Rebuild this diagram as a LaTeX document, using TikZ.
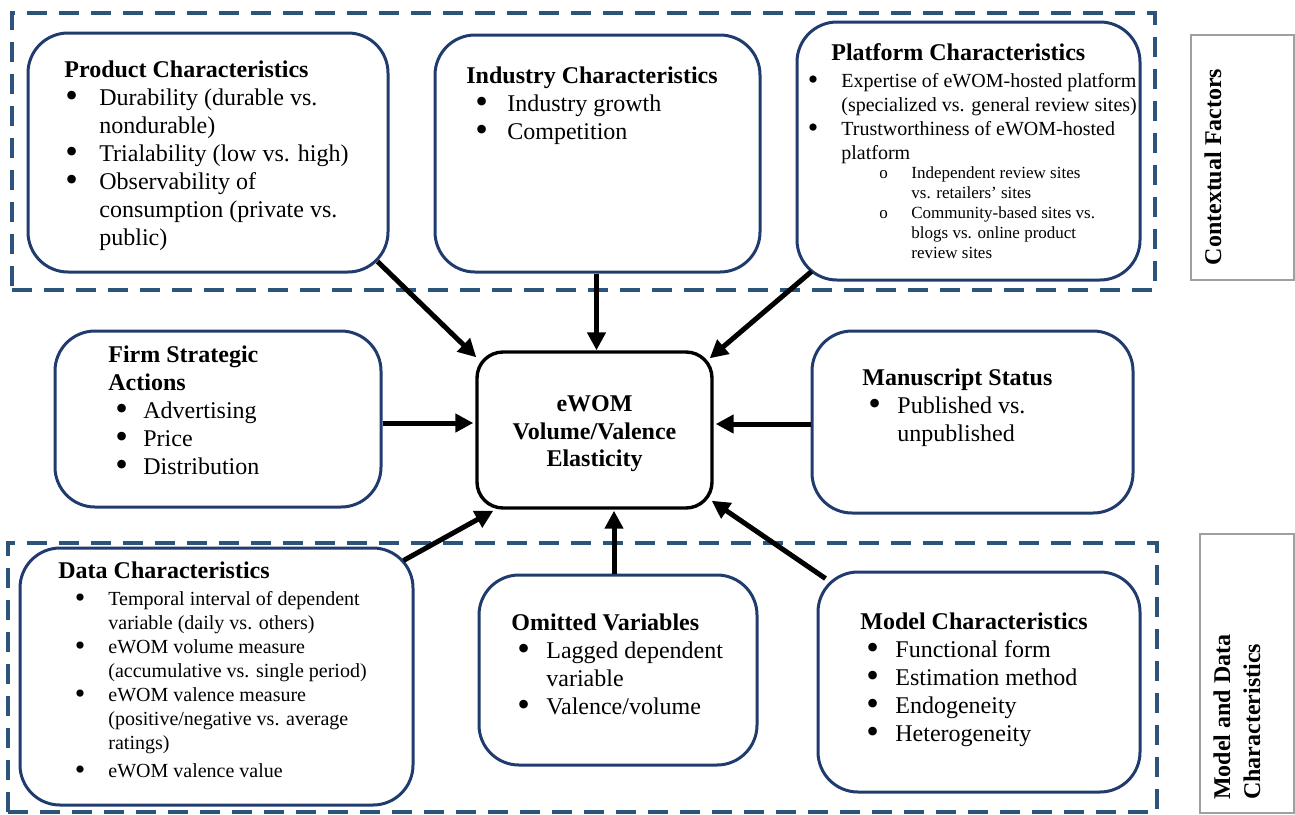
\documentclass[tikz,border=0pt]{standalone}
\usepackage{fontspec}
\setmainfont{Liberation Serif}
\usepackage{graphicx}
\usepackage{tikz}
\usetikzlibrary{arrows.meta,calc,fit}
\definecolor{boxblue}{RGB}{32,60,110}
\definecolor{dashblue}{RGB}{44,84,122}
\newcommand{\boxhead}[1]{\multicolumn{2}{@{}l@{}}{\bfseries #1}}
\newcommand{\blt}{\raisebox{-0.12em}[0pt][0pt]{\scalebox{1.5}{\textbullet}}}

\begin{document}
\begin{tikzpicture}[x=0.5pt,y=-0.5pt,
    font=\fontsize{12}{14}\selectfont,
    group/.style={draw=dashblue,line width=2pt,dash pattern=on 10pt off 6pt,inner sep=0pt},
    factor/.style={draw=boxblue,fill=white,line width=1.5pt,rounded corners=20pt,inner sep=0pt},
    outcome/.style={draw=black,fill=white,line width=1.7pt,rounded corners=13pt,inner sep=0pt},
    sidebox/.style={draw=gray!75,line width=0.7pt,inner sep=0pt},
    sidelabel/.style={rotate=90,align=left,inner sep=0pt,font=\fontsize{12}{15}\selectfont\bfseries},
    txt/.style={anchor=north west,inner sep=0pt},
    listsmall/.style={txt,font=\fontsize{10}{12}\selectfont},
    listtiny/.style={txt,font=\fontsize{8.5}{10}\selectfont},
    arr/.style={line width=2.5pt,-{Triangle[length=9pt,width=9pt]}}
]
\useasboundingbox (0,0) rectangle (1295,814);

% dashed groups and side labels
\node[group,fit={(12,13) (1155,290)}] (ctxgroup) {};
\node[group,fit={(8,543) (1157,812)}] (mdlgroup) {};
\node[sidebox,fit={(1191,35) (1294,280)}] (ctxside) {};
\node[sidebox,fit={(1200,534) (1294,813)}] (mdlside) {};
\node[sidelabel] (ctxlabel) at (1213,167) {Contextual Factors};
\node[sidelabel] (mdllabel) at (1237,717) {Model and Data\\Characteristics};

% boxes
\node[factor,fit={(28,33) (388,272)}] (prod) {};
\node[factor,fit={(435,35) (760,272)}] (industry) {};
\node[factor,fit={(797,22) (1140,280)}] (platform) {};
\node[factor,fit={(55,331) (381,507)}] (firm) {};
\node[factor,fit={(812,331) (1133,513)}] (manu) {};
\node[factor,fit={(20,548) (413,805)}] (data) {};
\node[factor,fit={(479,575) (757,765)}] (omit) {};
\node[factor,fit={(818,572) (1140,792)}] (model) {};
\node[outcome,fit={(477,352) (712,508)}] (core) {};
\node[align=center,inner sep=0pt,font=\fontsize{12}{13.75}\selectfont\bfseries] (coretxt)
    at ($(core.center)+(0,4)$) {eWOM\\Volume/Valence\\Elasticity};

% box texts
\node[txt] (prodtxt) at (64,57) {\begin{tabular}{@{\hspace{0.5pt}}p{17pt}@{}l@{}}
\boxhead{Product Characteristics}\\
\blt & Durability (durable vs.\\
 & nondurable)\\
\blt & Trialability (low vs. high)\\
\blt & Observability of\\
 & consumption (private vs.\\
 & public)
\end{tabular}};

\node[txt] (industrytxt) at (466,63) {\begin{tabular}{@{\hspace{4.5pt}}p{16pt}@{}l@{}}
\boxhead{Industry Characteristics}\\
\blt & Industry growth\\
\blt & Competition
\end{tabular}};

\node[txt,font=\fontsize{12}{14}\selectfont\bfseries] (platformhd) at (831,43) {Platform Characteristics};
\node[listsmall] (platformtxt) at (807.5,70) {\begin{tabular}{@{}p{16.75pt}@{}l@{}}
\blt & Expertise of eWOM-hosted platform\\
 & (specialized vs. general review sites)\\
\blt & Trustworthiness of eWOM-hosted\\
 & platform
\end{tabular}};
\node[listtiny] (platformsub) at (879,164) {\begin{tabular}{@{}p{16pt}@{}l@{}}
o & Independent review sites\\
 & vs. retailers’ sites\\
o & Community-based sites vs.\\
 & blogs vs. online product\\
 & review sites
\end{tabular}};

\node[txt] (firmtxt) at (108,342) {\begin{tabular}{@{\hspace{3.5pt}}p{14pt}@{}l@{}}
\boxhead{Firm Strategic}\\
\boxhead{Actions}\\
\blt & Advertising\\
\blt & Price\\
\blt & Distribution
\end{tabular}};

\node[txt] (manutxt) at (862,365) {\begin{tabular}{@{\hspace{3pt}}p{14.5pt}@{}l@{}}
\boxhead{Manuscript Status}\\
\blt & Published vs.\\
 & unpublished
\end{tabular}};

\node[txt,font=\fontsize{12}{14}\selectfont\bfseries] (datahd) at (58,561) {Data Characteristics};
\node[listsmall] (datatxt) at (74.5,588) {\begin{tabular}{@{}p{16.75pt}@{}l@{}}
\blt & Temporal interval of dependent\\
 & variable (daily vs. others)\\
\blt & eWOM volume measure\\
 & (accumulative vs. single period)\\
\blt & eWOM valence measure\\
 & (positive/negative vs. average\\
 & ratings)\\[2pt]
\blt & eWOM valence value
\end{tabular}};

\node[txt] (omittxt) at (511,610) {\begin{tabular}{@{\hspace{3pt}}p{14.5pt}@{}l@{}}
\boxhead{Omitted Variables}\\
\blt & Lagged dependent\\
 & variable\\
\blt & Valence/volume
\end{tabular}};

\node[txt] (modeltxt) at (860,609) {\begin{tabular}{@{\hspace{3pt}}p{14.5pt}@{}l@{}}
\boxhead{Model Characteristics}\\
\blt & Functional form\\
\blt & Estimation method\\
\blt & Endogeneity\\
\blt & Heterogeneity
\end{tabular}};

% arrows into the core
\draw[arr] ($(prod.south east)+(-12,-12)$) -- ($(core.north west)+(1,7)$);
\draw[arr] ($(industry.south)+(-1,0)$) -- ($(industry.south |- core.north)+(-1,0)$);
\draw[arr] ($(platform.south west)+(16,-10)$) -- ($(core.north east)+(-4,8)$);
\draw[arr] ($(firm.east)+(0,4)$) -- ($(core.west)+(-2,-7)$);
\draw[arr] ($(manu.west)+(0,2)$) -- ($(core.east)+(2,-6)$);
\draw[arr] ($(data.north east)+(-11,14)$) -- ($(core.south west)+(18,1)$);
\coordinate (oa) at ($(omit.north)+(-4,0)$);
\draw[arr] (oa) -- ($(oa |- core.south)+(0,1)$);
\draw[arr] ($(model.north west)+(9,8)$) -- ($(core.south east)+(-2,-9)$);
\end{tikzpicture}
\end{document}
